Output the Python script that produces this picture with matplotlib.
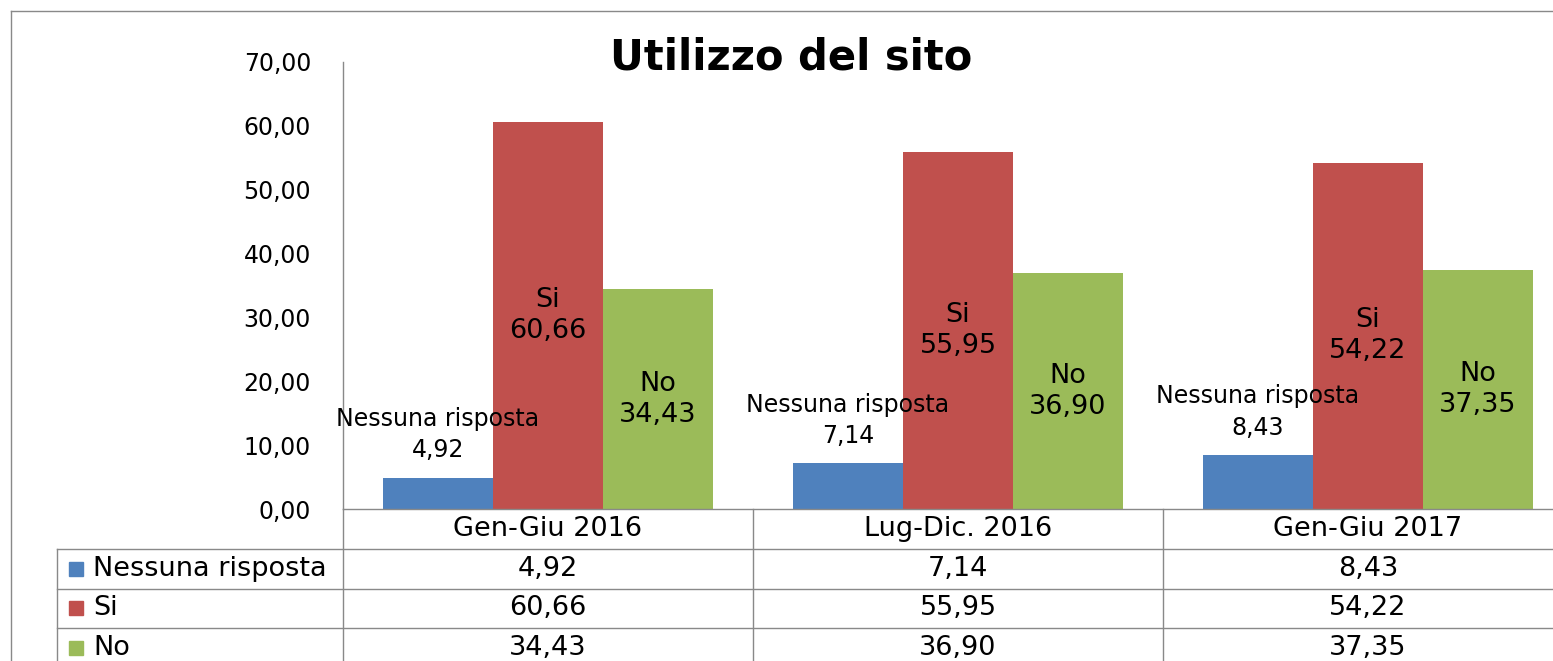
import matplotlib
matplotlib.use("Agg")
import matplotlib.pyplot as plt
from matplotlib.lines import Line2D

categories = ["Gen-Giu 2016", "Lug-Dic. 2016", "Gen-Giu 2017"]
series_names = ["Nessuna risposta", "Si", "No"]
nessuna = [4.92, 7.14, 8.43]
si = [60.66, 55.95, 54.22]
no = [34.43, 36.90, 37.35]
colors = ["#4F81BD", "#C0504D", "#9BBB59"]
yticks = [0, 10, 20, 30, 40, 50, 60, 70]

series = [nessuna, si, no]
grid = "#898989"


def fmt(v):
    return f"{v:.2f}".replace(".", ",")


W, H = 1553, 661
fig = plt.figure(figsize=(W / 100, H / 100), dpi=100)

# plot area in pixels: x 343..1573 (runs past the right edge), y 62..509
ax = fig.add_axes([343 / W, (H - 509) / H, 1230 / W, 447 / H])
bw = 110 / 410
x = list(range(len(categories)))
for i, (vals, name, c) in enumerate(zip(series, series_names, colors)):
    xs = [xi + (i - 1) * bw for xi in x]
    bars = ax.bar(xs, vals, width=bw, color=c, linewidth=0)
    for b, v in zip(bars, vals):
        cx = b.get_x() + b.get_width() / 2
        if i == 0:
            ax.annotate(f"{name}\n{fmt(v)}", (cx, v), xytext=(0, 11),
                        textcoords="offset points", ha="center", va="bottom",
                        fontsize=17, linespacing=1.4, annotation_clip=False)
        else:
            ax.text(cx, v / 2, f"{name}\n{fmt(v)}", ha="center", va="center",
                    fontsize=19.5, linespacing=1.25)

ax.set_xlim(-0.5, 2.5)
ax.set_ylim(0, 70)
ax.set_yticks(yticks)
ax.set_yticklabels([fmt(t) for t in yticks], fontsize=17)
ax.tick_params(axis="y", length=0, pad=23)
ax.set_xticks([])
for s in ["top", "right", "bottom"]:
    ax.spines[s].set_visible(False)
ax.spines["left"].set_color(grid)
ax.spines["left"].set_linewidth(1.0)

# data table below the plot
name_w = 286 / 410
tax = fig.add_axes([57 / W, (H - 668) / H, (1573 - 57) / W, 159 / H])
tax.set_xlim(-0.5 - name_w, 2.5)
tax.set_ylim(4, 0)
tax.axis("off")
left = -0.5 - name_w
tax.plot([-0.5, 2.5], [0, 0], color=grid, lw=1.0, clip_on=False)
for r in [1, 2, 3]:
    tax.plot([left, 2.5], [r, r], color=grid, lw=1.0, clip_on=False)
tax.plot([left, left], [1, 4], color=grid, lw=1.0, clip_on=False)
for xv in [-0.5, 0.5, 1.5]:
    tax.plot([xv, xv], [0, 4], color=grid, lw=1.0, clip_on=False)

for j, cat in enumerate(categories):
    tax.text(j, 0.5, cat, ha="center", va="center", fontsize=19.5, clip_on=False)
for i, (vals, name, c) in enumerate(zip(series, series_names, colors)):
    ry = i + 1.5
    tax.plot([left + 19 / 410], [ry], "s", ms=10, color=c, clip_on=False)
    tax.text(left + 36 / 410, ry, name, ha="left", va="center", fontsize=19.5,
             clip_on=False)
    for j, v in enumerate(vals):
        tax.text(j, ry, fmt(v), ha="center", va="center", fontsize=19.5,
                 clip_on=False)

fig.text(791 / W, 1 - 57 / H, "Utilizzo del sito", ha="center", va="center",
         fontsize=30, fontweight="bold")

# chart border (top and left visible)
fig.add_artist(Line2D([11 / W, 1], [1 - 11 / H, 1 - 11 / H], color=grid, lw=1.0))
fig.add_artist(Line2D([11 / W, 11 / W], [0, 1 - 11 / H], color=grid, lw=1.0))

fig.savefig("out.png", dpi=100)
